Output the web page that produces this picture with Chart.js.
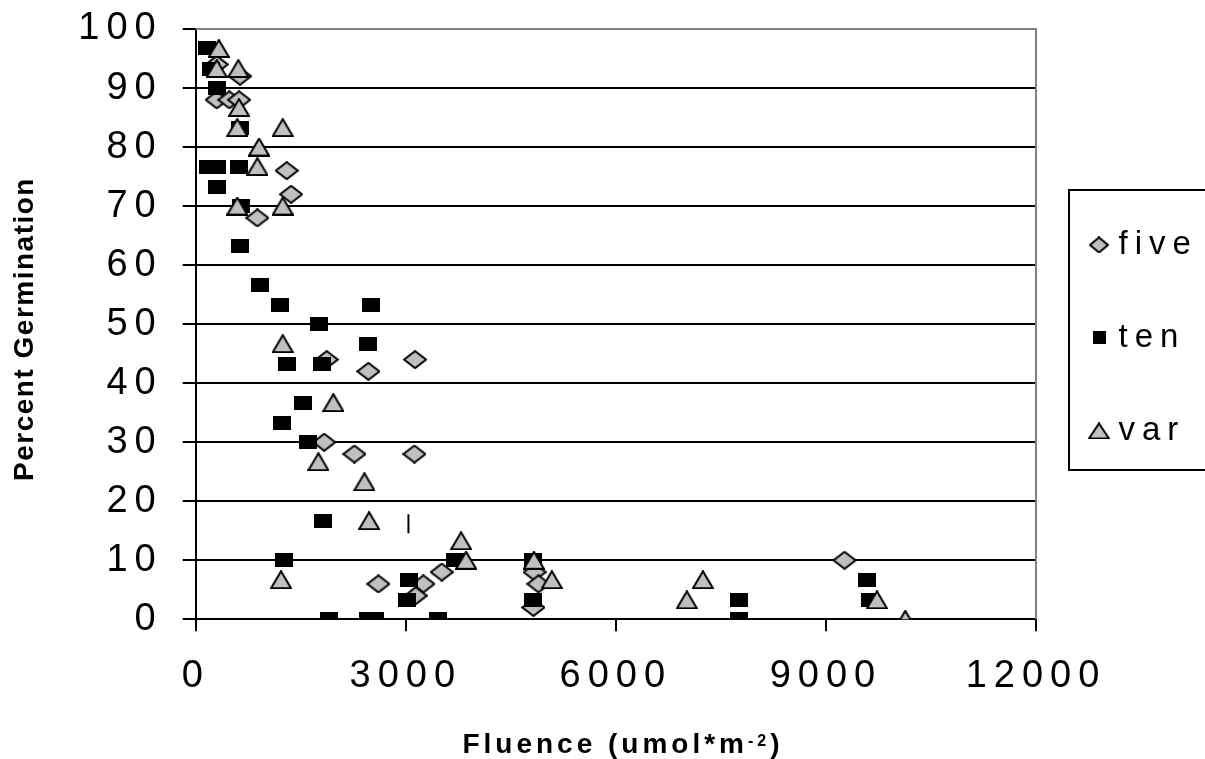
<!DOCTYPE html>
<html>
<head>
<meta charset="utf-8">
<script src="https://cdn.jsdelivr.net/npm/chart.js"></script>
<style>
  body { margin: 0; background: #fff; }
  canvas { display: block; }
</style>
</head>
<body>
<canvas id="chart" width="1205" height="759"></canvas>
<script>
// germination readings
const fiveX = [300, 633, 300, 480, 620, 1300, 1362, 880, 1871, 3133, 2466, 1835, 2266, 3123, 9266, 4840, 3514, 4895, 2609, 3252, 3142, 4823];
const fiveY = [94, 92, 88, 88, 88, 76, 72, 68, 44, 44, 42, 30, 28, 28, 10, 8, 8, 6, 6, 6, 4, 2];

const tenX = [160, 220, 300, 633, 176, 300, 619, 300, 650, 633, 919, 1204, 2500, 1761, 2457, 1300, 1800, 1528, 1228, 1609, 1814, 1266, 3704, 4823, 3052, 3014, 4814, 1909, 2457, 2562, 3457, 9586, 9633, 7762, 7762];
const tenY = [96.7, 93.3, 90, 83.3, 76.7, 76.7, 76.7, 73.3, 70, 63.3, 56.7, 53.3, 53.3, 50, 46.7, 43.3, 43.3, 36.7, 33.3, 30, 16.7, 10, 10, 10, 6.7, 3.3, 3.3, 0, 0, 0, 0, 6.7, 3.3, 3.3, 0];

const varX = [330, 300, 609, 619, 594, 1243, 904, 881, 594, 1243, 1243, 1966, 1752, 2409, 2476, 3790, 3861, 4830, 5086, 1219, 7243, 7014, 9728, 10133];
const varY = [96.7, 93.3, 93.3, 86.7, 83.3, 83.3, 80, 76.7, 70, 70, 46.7, 36.7, 26.7, 23.3, 16.7, 13.3, 10, 10, 6.7, 6.7, 6.7, 3.3, 3.3, 0];

// the small stray vertical tick in the plot
const markX = [3038];
const markY = [16.2];

const seriesNames = ["five", "ten", "var"];
const xTicks = [0, 3000, 6000, 9000, 12000];
const yTicks = [0, 10, 20, 30, 40, 50, 60, 70, 80, 90, 100];
const xTitle = ["Fluence (umol*m", "-2", ")"];
const yTitle = "Percent Germination";

const font = '"Liberation Sans", Arial, sans-serif';
const grey = "#c0c0c0";

function pairs(xs, ys) {
  return xs.map((x, i) => ({ x: x, y: ys[i] }));
}

// marker pictures (the reference markers are a bit wider than tall)
function makeMark(shape, w, h) {
  const c = document.createElement("canvas");
  c.width = w;
  c.height = h;
  const g = c.getContext("2d");
  g.lineWidth = 2;
  g.strokeStyle = "#000";
  g.fillStyle = shape == "square" ? "#000" : grey;
  g.beginPath();
  if (shape == "diamond") {
    g.moveTo(w / 2, 1);
    g.lineTo(w - 1, h / 2);
    g.lineTo(w / 2, h - 1);
    g.lineTo(1, h / 2);
  } else if (shape == "triangle") {
    g.moveTo(w / 2, 1);
    g.lineTo(w - 1, h - 1);
    g.lineTo(1, h - 1);
  } else {
    g.rect(0, 0, w, h);
  }
  g.closePath();
  g.fill();
  if (shape != "square") g.stroke();
  return c;
}

const plotMarks = [makeMark("diamond", 24, 19), makeMark("square", 18, 14), makeMark("triangle", 22, 19)];
const legendMarks = [makeMark("diamond", 20, 17), makeMark("square", 13, 13), makeMark("triangle", 22, 17)];

// letter spacing stands in for the horizontally stretched lettering
const spacing = {
  id: "spacing",
  beforeUpdate(chart) { chart.ctx.letterSpacing = "7px"; },
  beforeDraw(chart) { chart.ctx.letterSpacing = "7px"; }
};

// grey plot frame on top and right, box around the legend, axis titles
const frame = {
  id: "frame",
  beforeDatasetsDraw(chart) {
    const a = chart.chartArea;
    const c = chart.ctx;
    c.save();
    c.strokeStyle = "#808080";
    c.lineWidth = 2;
    c.beginPath();
    c.moveTo(a.left, a.top);
    c.lineTo(a.right, a.top);
    c.lineTo(a.right, a.bottom);
    c.stroke();
    c.restore();
  },
  afterDraw(chart) {
    const c = chart.ctx;
    c.save();
    c.strokeStyle = "#000";
    c.lineWidth = 2;
    c.strokeRect(1069, 190, 160, 280);

    c.fillStyle = "#000";
    c.textAlign = "left";
    c.textBaseline = "alphabetic";
    c.letterSpacing = "4px";
    const big = "bold 28px " + font;
    const small = "bold 16px " + font;
    c.font = big;
    const w1 = c.measureText(xTitle[0]).width;
    const w3 = c.measureText(xTitle[2]).width;
    c.font = small;
    const w2 = c.measureText(xTitle[1]).width;
    let x = 623 - (w1 + w2 + w3) / 2;
    c.font = big;
    c.fillText(xTitle[0], x, 753);
    x += w1;
    c.font = small;
    c.fillText(xTitle[1], x, 746);
    x += w2;
    c.font = big;
    c.fillText(xTitle[2], x, 753);

    c.letterSpacing = "1.5px";
    c.font = big;
    c.translate(33, 329);
    c.rotate(-Math.PI / 2);
    c.textAlign = "center";
    c.fillText(yTitle, 0, 0);
    c.restore();
  }
};

const datasets = [
  { label: seriesNames[0], data: pairs(fiveX, fiveY), pointStyle: plotMarks[0], order: 3 },
  { label: seriesNames[1], data: pairs(tenX, tenY), pointStyle: plotMarks[1], order: 2 },
  { label: seriesNames[2], data: pairs(varX, varY), pointStyle: plotMarks[2], order: 1 },
  { label: "mark", data: pairs(markX, markY), pointStyle: "line", rotation: 90, pointRadius: 9.5,
    borderColor: "#000", borderWidth: 2, order: 0 }
];
datasets.forEach(d => {
  if (d.label != "mark") { d.pointRadius = 10; d.borderWidth = 0; }
  d.pointHoverRadius = d.pointRadius;
});

let ctx = document.getElementById("chart").getContext("2d");
let myChart = new Chart(ctx, {
  type: "scatter",
  data: { datasets: datasets },
  plugins: [spacing, frame],
  options: {
    responsive: false,
    animation: false,
    layout: { padding: { left: 58.3, right: 0, top: 29, bottom: 36.9 } },
    scales: {
      x: {
        type: "linear",
        min: 0,
        max: 12000,
        afterBuildTicks: (axis) => { axis.ticks = xTicks.map(v => ({ value: v })); },
        ticks: { color: "#000", padding: 22.6, font: { family: font, size: 38 }, maxRotation: 0,
          callback: (v) => String(v) },
        grid: { drawOnChartArea: false, drawTicks: true, tickLength: 12, color: "#000", lineWidth: 2 },
        border: { color: "#000", width: 2 }
      },
      y: {
        min: 0,
        max: 100,
        afterBuildTicks: (axis) => { axis.ticks = yTicks.map(v => ({ value: v })); },
        afterFit: (axis) => { axis.paddingTop = 0; axis.paddingBottom = 0; },
        ticks: { color: "#000", padding: 20, font: { family: font, size: 38 },
          callback: (v) => String(v) },
        grid: { color: "#000", lineWidth: 2, tickLength: 13 },
        border: { color: "#000", width: 2 }
      }
    },
    plugins: {
      tooltip: { enabled: false },
      legend: {
        position: "right",
        fullSize: false,
        maxWidth: 169,
        title: { display: true, text: "", padding: 0, font: { size: 23 } },
        labels: {
          usePointStyle: true,
          boxWidth: 6,
          padding: 60,
          color: "#000",
          font: { family: font, size: 33 },
          filter: (item) => item.text != "mark",
          sort: (a, b) => a.datasetIndex - b.datasetIndex,
          generateLabels(chart) {
            const items = Chart.defaults.plugins.legend.labels.generateLabels(chart);
            items.forEach(it => {
              if (legendMarks[it.datasetIndex]) it.pointStyle = legendMarks[it.datasetIndex];
            });
            return items;
          }
        }
      }
    }
  }
});
</script>
</body>
</html>
